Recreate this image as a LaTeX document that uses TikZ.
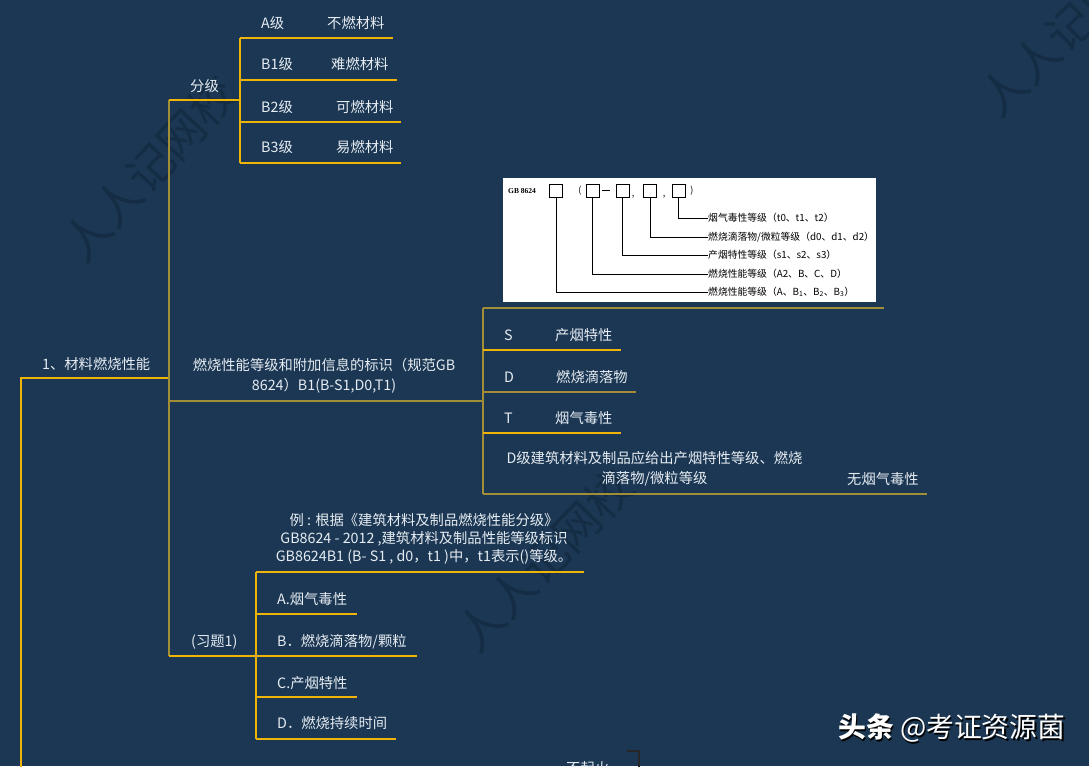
\documentclass[tikz,border=0pt]{standalone}
\usepackage{fontspec}
\setmainfont{Noto Sans CJK SC}
\newfontfamily\gbfont{Liberation Serif}
\definecolor{bg}{HTML}{1B3753}
\definecolor{gold}{HTML}{F0B408}
\definecolor{olive}{HTML}{A38E38}
\definecolor{txt}{HTML}{E6ECF2}
\definecolor{wm}{HTML}{0F2538}
\begin{document}
\begin{tikzpicture}[x=1pt,y=-1pt,
  lbl/.style={text=txt, font=\fontsize{14.3}{20}\selectfont, inner sep=0pt, anchor=west, text height=12.6pt, text depth=1.7pt},
  mlbl/.style={text=txt, font=\fontsize{14.3}{20}\selectfont, inner sep=0pt, align=center},
  qlbl/.style={text=txt, font=\fontsize{14.3}{18}\selectfont, inner sep=0pt, align=center},
  gl/.style={draw=gold, line width=1.4pt},
  ol/.style={draw=olive, line width=1.4pt},
  sq/.style={draw=black, line width=0.8pt, minimum size=13pt, inner sep=0pt},
  gbl/.style={text=black, font=\fontsize{9.8}{11}\selectfont, inner sep=0pt, anchor=west},
  gbc/.style={draw=black, line width=0.7pt},
  wmark/.style={text=wm, font=\fontsize{46}{50}\selectfont, opacity=0.55, inner sep=0pt}]
\useasboundingbox (0,0) rectangle (1089,766);
\fill[bg] (0,0) rectangle (1089,766);

% ---------- watermarks ----------
\node[wmark, rotate=47] (wm1) at (150,168) {人人记网校};
\node[wmark, rotate=46] (wm2) at (545,560) {人人记网校};
\node[wmark, rotate=44] (wm3) at (1070,27) {人人记网校};

% ---------- root ----------
\node[lbl] (root) at (42,364) {1、材料燃烧性能};
\coordinate (rootL) at (21,378);
\coordinate (rootR) at (169,378);
\coordinate (spine0) at (21,800);
\draw[gl] (spine0) -- (rootL) -- (rootR);
\coordinate (s1top) at (169,100);
\coordinate (s1bot) at (169,656);
\draw[ol] (s1top) -- (s1bot);

% ---------- 分级 ----------
\node[lbl] (fj) at (190,86) {分级};
\coordinate (fjR) at (240,100);
\draw[gl] (s1top) -- (fjR);
\coordinate (fjT) at (240,38);
\coordinate (fjB) at (240,163);
\draw[gl] (fjT) -- (fjB);
\node[lbl] (ga) at (261,23) {A级};
\node[lbl] (gaa) at (327,23) {不燃材料};
\coordinate (gaE) at (393,38);
\draw[gl] (fjT) -- (gaE);
\node[lbl] (gb1) at (261,64) {B1级};
\node[lbl] (gb1a) at (331,64) {难燃材料};
\coordinate (gb1S) at (240,80);
\coordinate (gb1E) at (397,80);
\draw[gl] (gb1S) -- (gb1E);
\node[lbl] (gb2) at (261,107) {B2级};
\node[lbl] (gb2a) at (336,107) {可燃材料};
\coordinate (gb2S) at (240,122);
\coordinate (gb2E) at (401,122);
\draw[gl] (gb2S) -- (gb2E);
\node[lbl] (gb3) at (261,147) {B3级};
\node[lbl] (gb3a) at (336,147) {易燃材料};
\coordinate (gb3E) at (401,163);
\draw[gl] (fjB) -- (gb3E);

% ---------- 标识 ----------
\node[mlbl] (gbn) at (324,376) {燃烧性能等级和附加信息的标识（规范GB\\8624）B1(B-S1,D0,T1)};
\coordinate (gbL) at (169,401);
\coordinate (gbR) at (483,401);
\draw[ol] (gbL) -- (gbR);
\coordinate (gT) at (483,308);
\coordinate (gB) at (483,494);
\draw[ol] (gT) -- (gB);
\coordinate (imgE) at (884,308);
\draw[ol] (gT) -- (imgE);

% white picture
\fill[white] (503,178) rectangle (876,302);
\node[text=black, font=\gbfont\bfseries\fontsize{7.5}{9}\selectfont, inner sep=0pt, anchor=west] (gbt) at (508,191) {GB 8624};
\node[sq] (b1) at (556,190.5) {};
\node[text=black, font=\fontsize{9}{10}\selectfont, inner sep=0pt] (lp) at (580,190.5) {(};
\node[sq] (b2) at (592.5,190.5) {};
\draw[gbc] (b2.east) ++(3,0) coordinate (dsh1) -- ++(8,0) coordinate (dsh2);
\node[sq] (b3) at (622.5,190.5) {};
\node[text=black, font=\fontsize{9}{10}\selectfont, inner sep=0pt] (cm1) at (633,197) {,};
\node[sq] (b4) at (650,190.5) {};
\node[text=black, font=\fontsize{9}{10}\selectfont, inner sep=0pt] (cm2) at (664,197) {,};
\node[sq] (b5) at (678.5,190.5) {};
\node[text=black, font=\fontsize{9}{10}\selectfont, inner sep=0pt] (rp) at (692,190.5) {)};
\node[gbl] (l5) at (708,218) {烟气毒性等级（t0、t1、t2）};
\node[gbl] (l4) at (708,237) {燃烧滴落物/微粒等级（d0、d1、d2）};
\node[gbl] (l3) at (708,255) {产烟特性等级（s1、s2、s3）};
\node[gbl] (l2) at (708,274) {燃烧性能等级（A2、B、C、D）};
\node[gbl] (l1) at (708,292) {燃烧性能等级（A、B\textsubscript{1}、B\textsubscript{2}、B\textsubscript{3}）};
\draw[gbc] (b5.south) |- (l5.west);
\draw[gbc] (b4.south) |- (l4.west);
\draw[gbc] (b3.south) |- (l3.west);
\draw[gbc] (b2.south) |- (l2.west);
\draw[gbc] (b1.south) |- (l1.west);

% S D T
\node[lbl] (ss) at (504,335) {S};
\node[lbl] (ssa) at (555,335) {产烟特性};
\coordinate (ssS) at (483,350);
\coordinate (ssE) at (621,350);
\draw[gl] (ssS) -- (ssE);
\node[lbl] (dd) at (504,377) {D};
\node[lbl] (dda) at (556,377) {燃烧滴落物};
\coordinate (ddS) at (483,392);
\coordinate (ddE) at (636,392);
\draw[ol] (ddS) -- (ddE);
\node[lbl] (tt) at (504,418) {T};
\node[lbl] (tta) at (555,418) {烟气毒性};
\coordinate (ttS) at (483,433);
\coordinate (ttE) at (621,433);
\draw[gl] (ttS) -- (ttE);
\node[mlbl] (dj) at (654.5,469) {D级建筑材料及制品应给出产烟特性等级、燃烧\\滴落物/微粒等级};
\node[lbl] (dja) at (847,479) {无烟气毒性};
\coordinate (djE) at (927,494);
\draw[ol] (gB) -- (djE);

% ---------- 习题 ----------
\node[lbl] (xt) at (191,641) {(习题1)};
\coordinate (xR) at (256,656);
\draw[gl] (s1bot) -- (xR);
\coordinate (xT) at (256,572);
\coordinate (xB) at (256,739);
\draw[gl] (xT) -- (xB);
\node[qlbl] (q) at (424,539) {例 : 根据《建筑材料及制品燃烧性能分级》\\GB8624 - 2012 ,建筑材料及制品性能等级标识\\GB8624B1 (B- S1 , d0，t1 )中，t1表示()等级。};
\coordinate (qE) at (584,572);
\draw[gl] (xT) -- (qE);
\node[lbl] (oa) at (277,599) {A.烟气毒性};
\coordinate (oaS) at (256,614);
\coordinate (oaE) at (357,614);
\draw[gl] (oaS) -- (oaE);
\node[lbl] (ob) at (277,641) {B．燃烧滴落物/颗粒};
\coordinate (obE) at (417,656);
\draw[gl] (xR) -- (obE);
\node[lbl] (oc) at (277,683) {C.产烟特性};
\coordinate (ocS) at (256,697);
\coordinate (ocE) at (357,697);
\draw[gl] (ocS) -- (ocE);
\node[lbl] (od) at (277,723) {D．燃烧持续时间};
\coordinate (odE) at (396,739);
\draw[gl] (xB) -- (odE);

% ---------- bottom partial ----------
\node[lbl] (bq) at (566,768) {不起火};
\coordinate (brA) at (627,751);
\coordinate (brB) at (639,751);
\coordinate (brC) at (639,770);
\draw[draw=black!85, line width=1.6pt] (brA) -- (brB) -- (brC);

% ---------- signature ----------
\node[text=black, font=\fontsize{27.8}{29}\selectfont, inner sep=0pt, anchor=west] (sigs) at (839.5,729.5) {{\bfseries 头条} @考证资源菌};
\node[text=white, font=\fontsize{27.8}{29}\selectfont, inner sep=0pt, anchor=west] (sig) at (838,728) {{\bfseries 头条} @考证资源菌};
\end{tikzpicture}
\end{document}
